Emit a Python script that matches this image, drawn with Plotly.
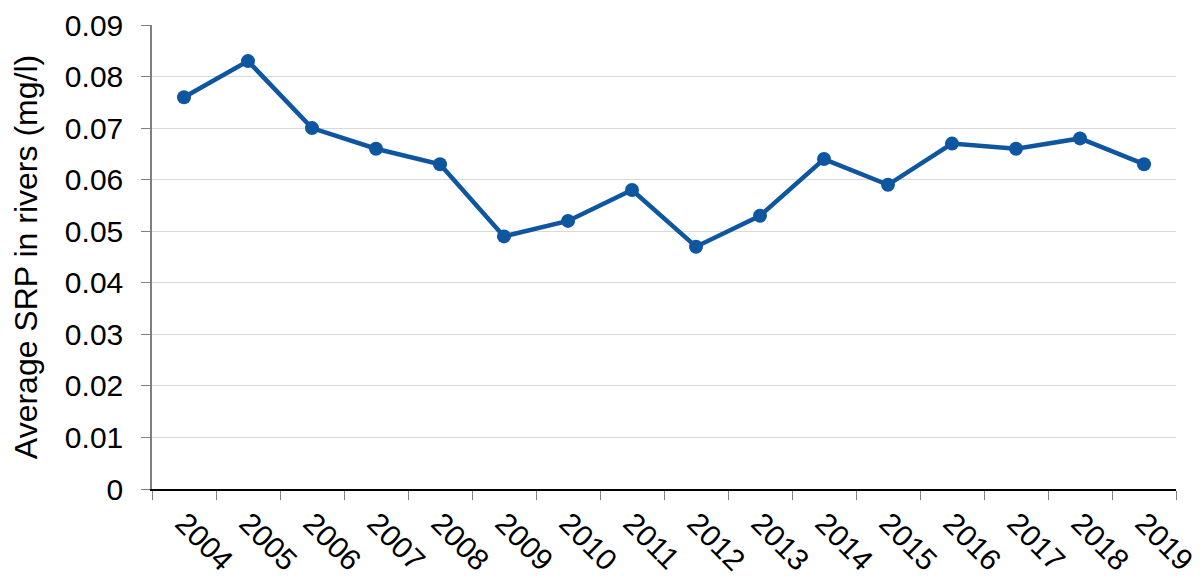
import plotly.graph_objects as go

years = [str(y) for y in range(2004, 2020)]
srp = [0.076, 0.083, 0.070, 0.066, 0.063, 0.049, 0.052, 0.058,
       0.047, 0.053, 0.064, 0.059, 0.067, 0.066, 0.068, 0.063]
y_ticks = [0, 0.01, 0.02, 0.03, 0.04, 0.05, 0.06, 0.07, 0.08, 0.09]

blue = "#0E56A0"
fnt = dict(family="Liberation Sans, Arial", size=30, color="black")
tfnt = dict(fnt, size=32)

fig = go.Figure(
    go.Scatter(
        x=years,
        y=srp,
        mode="lines+markers",
        line=dict(color=blue, width=4.5),
        marker=dict(color=blue, size=14),
    )
)

# page body has an 8px margin, so the figure is sized to fit inside it
fig.update_layout(
    width=1194,
    height=570,
    margin=dict(l=144, r=26, t=17, b=89),
    paper_bgcolor="white",
    plot_bgcolor="white",
    font=fnt,
    showlegend=False,
)
fig.update_xaxes(
    type="category",
    tickson="boundaries",
    ticks="outside",
    ticklen=9,
    tickcolor="#7f7f7f",
    tickangle=45,
    tickfont=fnt,
    ticklabelstandoff=3,
    showline=True,
    linecolor="black",
    linewidth=1.5,
    showgrid=False,
    range=[-0.5, 15.5],
    automargin=False,
)
fig.update_yaxes(
    title=dict(text="Average SRP in rivers (mg/l)", font=tfnt, standoff=18),
    range=[0, 0.09],
    tickvals=y_ticks,
    ticktext=[f"{v:g}" for v in y_ticks],
    tickfont=fnt,
    ticklabelstandoff=12,
    ticks="outside",
    ticklen=9,
    tickcolor="#7f7f7f",
    showline=True,
    linecolor="#7f7f7f",
    linewidth=1.5,
    showgrid=True,
    gridcolor="#d9d9d9",
    zeroline=False,
    automargin=False,
)

fig.write_html("out.html")
